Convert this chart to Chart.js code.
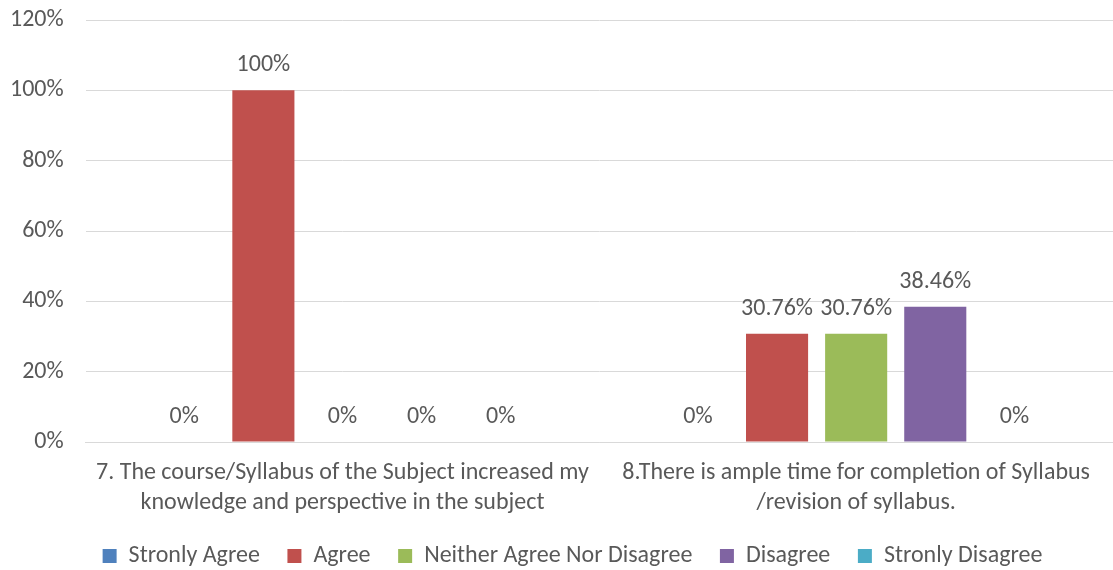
<!DOCTYPE html>
<html><head><meta charset="utf-8">
<script src="https://cdn.jsdelivr.net/npm/chart.js@4/dist/chart.umd.min.js"></script>
<style>html,body{margin:0;padding:0;background:#fff;}#wrap{width:1113px;height:570px;}</style>
</head><body><div id="wrap"><canvas id="c" width="1113" height="570"></canvas></div>
<script>
const categories = [
  ["7. The course/Syllabus of the Subject increased my", "knowledge and perspective in the subject"],
  ["8.There is ample time for completion of Syllabus", "/revision of syllabus."]
];
const seriesNames = ["Stronly Agree", "Agree", "Neither Agree Nor Disagree", "Disagree", "Stronly Disagree"];
const stronglyAgree = [0, 0];
const agree = [100, 30.76];
const neither = [0, 30.76];
const disagree = [0, 38.46];
const stronglyDisagree = [0, 0];
const yTicks = [0, 20, 40, 60, 80, 100, 120];
const colors = ["#4F81BD", "#C0504D", "#9BBB59", "#8064A2", "#4BACC6"];

const FONT = "Carlito, Lato, 'Liberation Sans', sans-serif";
const FS = 24;
const TXT = "#595959";

const labelPlugin = {
  id: 'valLabels',
  afterLayout(chart) {
    const lg = chart.legend;
    if (lg) { lg.left += 22; lg.right += 22; }
  },
  afterDatasetsDraw(chart) {
    const ctx = chart.ctx;
    ctx.save();
    ctx.font = FS + "px " + FONT;
    ctx.fillStyle = TXT;
    ctx.textAlign = 'center';
    ctx.textBaseline = 'middle';
    chart.data.datasets.forEach((ds, i) => {
      const meta = chart.getDatasetMeta(i);
      meta.data.forEach((el, j) => {
        const v = ds.data[j];
        ctx.fillText(v + '%', el.x, el.y - 25);
      });
    });
    ctx.restore();
  }
};

const seriesData = [stronglyAgree, agree, neither, disagree, stronglyDisagree];
new Chart(document.getElementById('c'), {
  type: 'bar',
  data: {
    labels: categories,
    datasets: seriesNames.map((n, i) => ({
      label: n,
      data: seriesData[i],
      backgroundColor: colors[i],
      barPercentage: 0.785,
      categoryPercentage: 0.77
    }))
  },
  options: {
    responsive: false,
    animation: false,
    layout: { padding: { top: 20, right: 0, left: -12, bottom: -8 } },
    plugins: {
      tooltip: { enabled: false },
      legend: {
        position: 'bottom',
        labels: {
          font: { size: FS, family: FONT },
          color: TXT,
          boxWidth: 14,
          boxHeight: 14,
          padding: 18,
          generateLabels(chart) {
            const items = Chart.defaults.plugins.legend.labels.generateLabels(chart);
            items.forEach((it, i) => { if (i < items.length - 1) it.text = it.text + '\u2009\u2009'; });
            return items;
          }
        }
      }
    },
    scales: {
      x: {
        grid: { display: false },
        border: { color: '#D9D9D9', width: 1 },
        ticks: { font: { size: FS, family: FONT, lineHeight: 1.25 }, color: TXT, maxRotation: 0, autoSkip: false, padding: 8 }
      },
      y: {
        min: 0, max: 120,
        afterBuildTicks(axis) { axis.ticks = yTicks.map(v => ({ value: v })); },
        afterFit(axis) { axis.paddingTop = 0; axis.paddingBottom = 0; },
        grid: { color: '#D9D9D9', drawTicks: false, lineWidth: 1 },
        border: { display: false },
        ticks: { font: { size: FS, family: FONT, lineHeight: 0.4 }, color: TXT, padding: 22, callback: v => v + '%' }
      }
    }
  },
  plugins: [labelPlugin]
});
</script></body></html>
